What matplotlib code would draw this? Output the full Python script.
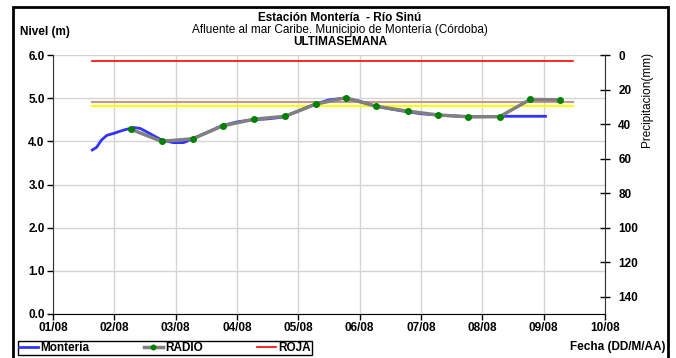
import matplotlib
matplotlib.use("Agg")
import matplotlib.pyplot as plt
from matplotlib.patches import Rectangle

plt.rcParams['font.family'] = ['Liberation Sans', 'DejaVu Sans']

# day offsets from 01/08 (0 = 01/08 00:00)
monteria_x = [0.64, 0.71, 0.79, 0.88, 0.98, 1.15, 1.31, 1.42, 1.58, 1.77, 1.96, 2.13, 2.29,
              2.5, 2.75, 3.0, 3.25, 3.5, 3.75, 4.0, 4.25, 4.5, 4.75, 5.0, 5.25, 5.5, 5.75,
              6.0, 6.25, 6.5, 6.75, 7.0, 7.25, 7.5, 7.75, 8.03]
monteria_y = [3.80, 3.86, 4.03, 4.14, 4.18, 4.26, 4.32, 4.30, 4.18, 4.03, 3.97, 3.97, 4.07,
              4.20, 4.36, 4.45, 4.50, 4.52, 4.56, 4.70, 4.85, 4.96, 5.00, 4.93, 4.82, 4.75, 4.69,
              4.64, 4.61, 4.59, 4.57, 4.57, 4.58, 4.58, 4.58, 4.58]

radio_x = [1.27, 1.77, 2.28, 2.77, 3.27, 3.78, 4.28, 4.77, 5.27, 5.78, 6.28, 6.77, 7.28, 7.78, 8.27]
radio_y = [4.28, 4.00, 4.06, 4.36, 4.51, 4.58, 4.86, 5.01, 4.81, 4.70, 4.61, 4.57, 4.57, 4.97, 4.96]

ref_x = [0.64, 8.48]
roja_y = 5.87
marron_y = 4.91
amarilla_y = 4.81

x_labels = ["01/08", "02/08", "03/08", "04/08", "05/08", "06/08", "07/08", "08/08", "09/08", "10/08"]
nivel_ticks = [0, 1, 2, 3, 4, 5, 6]
prec_ticks = [0, 20, 40, 60, 80, 100, 120, 140]

fig = plt.figure(figsize=(6.76, 3.58), dpi=100)
ax = fig.add_axes([53 / 676, 44 / 358, 552 / 676, 259 / 358])

fs = 8.5
ax.set_xlim(0, 9)
ax.set_ylim(0, 6)
ax.set_xticks(range(len(x_labels)))
ax.set_xticklabels(x_labels, fontsize=fs, fontweight="bold")
ax.set_yticks(nivel_ticks)
ax.set_yticklabels([f"{v:.1f}" for v in nivel_ticks], fontsize=fs, fontweight="bold")
ax.grid(True, color="#d4d4d4", lw=1)
ax.set_axisbelow(True)
ax.spines["top"].set_visible(False)
ax.spines["right"].set_visible(False)
ax.spines["left"].set_color("#333333")
ax.tick_params(length=4, width=1, pad=2)

ax.plot(ref_x, [roja_y] * 2, color="#ff0000", lw=1.2, label="ROJA", zorder=3)
ax.plot(ref_x, [marron_y] * 2, color="#c49a80", lw=1.5, zorder=3)
ax.plot(ref_x, [amarilla_y] * 2, color="#ffff00", lw=1.5, zorder=3)
l1, = ax.plot(monteria_x, monteria_y, color="#3333ff", lw=2, label="Monteria", zorder=4)
l2, = ax.plot(radio_x, radio_y, color="#808080", lw=2.5, marker="o", ms=4,
              mfc="#008000", mec="#008000", label="RADIO", zorder=5)
l3 = ax.lines[0]

ax2 = ax.twinx()
ax2.set_ylim(150, 0)
ax2.set_yticks(prec_ticks)
ax2.set_yticklabels([str(v) for v in prec_ticks], fontsize=fs, fontweight="bold")
ax2.tick_params(direction="inout", length=7, width=1, pad=6)
for s in ["top", "left", "bottom"]:
    ax2.spines[s].set_visible(False)
ax2.spines["right"].set_color("#333333")
ax2.set_ylabel("Precipitacion(mm)", fontsize=fs, labelpad=10)
ax2.yaxis.set_label_coords(1.065, 0.83)

fig.text(0.503, 0.950, "Estación Montería  - Río Sinú", ha="center", va="center",
         fontsize=fs, fontweight="bold")
fig.text(0.503, 0.917, "Afluente al mar Caribe. Municipio de Montería (Córdoba)", ha="center",
         va="center", fontsize=fs)
fig.text(0.503, 0.884, "ULTIMASEMANA", ha="center", va="center", fontsize=fs, fontweight="bold")
fig.text(20 / 676, 0.91, "Nivel (m)", ha="left", va="center", fontsize=fs, fontweight="bold")
fig.text(665 / 676, 0.03, "Fecha (DD/M/AA)", ha="right", va="center", fontsize=fs,
         fontweight="bold")

leg = fig.legend([l1, l2, l3], ["Monteria", "RADIO", "ROJA"], ncol=3, mode="expand",
                 bbox_to_anchor=(18 / 676, 3 / 358, 294 / 676, 17 / 358), loc="lower left",
                 prop={"size": fs, "weight": "bold"}, handlelength=1.6, handletextpad=0.2,
                 borderaxespad=0, borderpad=0.1, fancybox=False, framealpha=1,
                 edgecolor="black", markerscale=0.8)
leg.get_frame().set_linewidth(1)

# outer frame of the chart
fig.patches.append(Rectangle((13 / 676, -0.05), 655 / 676, 1.05 - 7 / 358, transform=fig.transFigure,
                             fill=False, edgecolor="black", lw=2))

fig.savefig("out.png", dpi=100)
